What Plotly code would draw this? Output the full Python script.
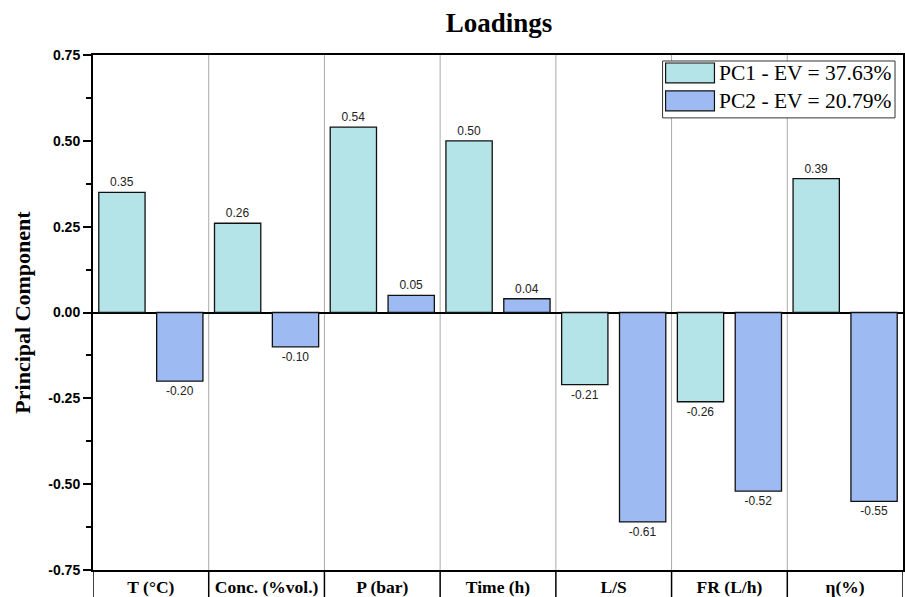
import plotly.graph_objects as go

# Loadings of each process variable on the first two principal components
variables = ["T (°C)", "Conc. (%vol.)", "P (bar)", "Time (h)", "L/S", "FR (L/h)", "η(%)"]
pc1 = [0.35, 0.26, 0.54, 0.50, -0.21, -0.26, 0.39]
pc2 = [-0.20, -0.10, 0.05, 0.04, -0.61, -0.52, -0.55]
series_names = ["PC1 - EV = 37.63%", "PC2 - EV = 20.79%"]
series_colors = ["#B4E4E8", "#9DBAF3"]
y_ticks = [-0.75, -0.50, -0.25, 0.0, 0.25, 0.50, 0.75]

W, H = 905, 597
L, R, T, B = 93, 0, 55, 26
pw, ph = W - L - R, H - T - B
SERIF = "Liberation Serif, Times New Roman"
SANS = "Arial, Liberation Sans"


def px(x):
    return (x - L) / pw


def py(y):
    return (H - B - y) / ph


def fmt(v):
    return f"{v:.2f}"


fig = go.Figure()
for name, vals, color in zip(series_names, [pc1, pc2], series_colors):
    fig.add_trace(go.Bar(
        x=list(range(len(variables))), y=vals, name=name,
        marker=dict(color=color, line=dict(color="#111111", width=1.3)),
        text=[fmt(v) for v in vals], texttemplate="%{text}",
        textposition="outside", cliponaxis=False,
        textfont=dict(family=SANS, size=12, color="#222222"),
        showlegend=False,
    ))

shapes = []
# category separators below the axis
for i in range(len(variables) + 1):
    shapes.append(dict(type="line", xref="x", yref="paper", x0=i - 0.5, x1=i - 0.5,
                       y0=0, y1=-B / ph - 0.01, line=dict(color="black", width=1.5)))

# legend box
shapes.append(dict(type="rect", xref="paper", yref="paper",
                   x0=px(664), x1=px(897), y0=py(118), y1=py(61),
                   line=dict(color="#333333", width=1), fillcolor="white"))
annotations = []
for k, (name, color) in enumerate(zip(series_names, series_colors)):
    top = 63 + k * 28
    shapes.append(dict(type="rect", xref="paper", yref="paper",
                       x0=px(667), x1=px(716), y0=py(top + 20), y1=py(top),
                       line=dict(color="#111111", width=1.2), fillcolor=color))
    annotations.append(dict(xref="paper", yref="paper", x=px(719), y=py(top + 10),
                            text=name, showarrow=False, xanchor="left", yanchor="middle",
                            font=dict(family=SERIF, size=21.5, color="black")))

fig.update_layout(
    width=W, height=H,
    margin=dict(l=L, r=R, t=T, b=B),
    paper_bgcolor="white", plot_bgcolor="white",
    barmode="group", bargap=0.0, bargroupgap=0.2,
    title=dict(text="<b>Loadings</b>", x=(L + pw / 2) / W, xanchor="center",
               y=1 - 23 / H, yanchor="middle",
               font=dict(family=SERIF, size=27, color="black")),
    shapes=shapes, annotations=annotations,
)

fig.update_xaxes(
    range=[-0.5, len(variables) - 0.5],
    tickvals=list(range(len(variables))),
    ticktext=[f"<b>{v}</b>" for v in variables],
    tickfont=dict(family=SERIF, size=17.5, color="black"),
    ticks="", showgrid=False,
    showline=True, linecolor="black", linewidth=2, mirror=True,
    zeroline=False,
)
for i in range(1, len(variables)):
    fig.add_vline(x=i - 0.5, line=dict(color="#AAAAAA", width=1), layer="below")

fig.update_yaxes(
    range=[-0.75, 0.75],
    tickvals=y_ticks, ticktext=[f"<b>{v:.2f}</b>" for v in y_ticks],
    tickfont=dict(family=SANS, size=14, color="black"),
    ticks="outside", ticklen=8, tickwidth=2, tickcolor="black",
    minor=dict(dtick=0.125, tick0=0.125, ticks="outside", ticklen=5, tickwidth=2,
               tickcolor="black", showgrid=False),
    showgrid=False,
    showline=True, linecolor="black", linewidth=2, mirror=True,
    zeroline=True, zerolinecolor="black", zerolinewidth=2,
    title=dict(text="<b>Principal Component</b>", standoff=12,
               font=dict(family=SERIF, size=22, color="black")),
)

fig.write_html("out.html")
